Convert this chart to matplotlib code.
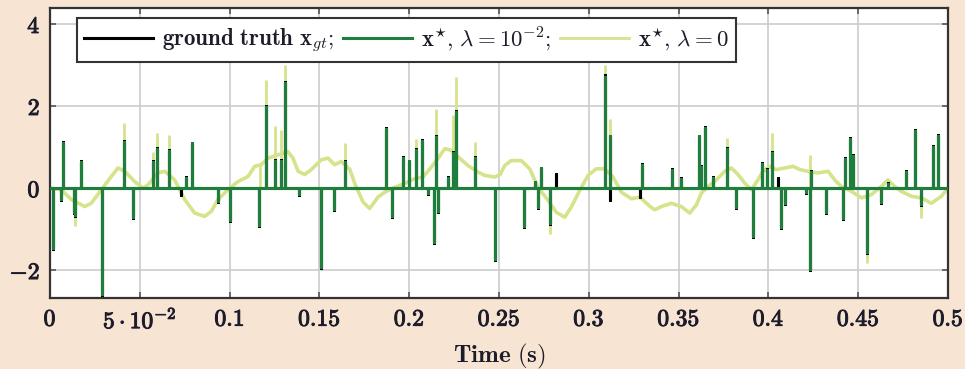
import numpy as np
import matplotlib
matplotlib.use("Agg")
import matplotlib.pyplot as plt
import matplotlib.patheffects as pe

plt.rcParams['mathtext.fontset'] = 'cm'
plt.rcParams['font.family'] = 'serif'
plt.rcParams['font.serif'] = ['DejaVu Serif']

# spike times (s) and amplitudes of the ground truth
gt_t = [0.0017, 0.0063, 0.0072, 0.0132, 0.0141, 0.0174, 0.0291, 0.0410, 0.0462, 0.0573,
        0.0597, 0.0660, 0.0728, 0.0759, 0.0790, 0.0935, 0.1004, 0.1162, 0.1204, 0.1251,
        0.1284, 0.1310, 0.1385, 0.1507, 0.1580, 0.1640, 0.1873, 0.1904, 0.1965, 0.1999,
        0.2040, 0.2071, 0.2105, 0.2138, 0.2152, 0.2160, 0.2216, 0.2244, 0.2262, 0.2365,
        0.2479, 0.2639, 0.2700, 0.2717, 0.2732, 0.2782, 0.2819, 0.3092, 0.3116, 0.3120,
        0.3284, 0.3296, 0.3463, 0.3511, 0.3612, 0.3626, 0.3645, 0.3690, 0.3769, 0.3821,
        0.3914, 0.3964, 0.3994, 0.4020, 0.4055, 0.4072, 0.4094, 0.4211, 0.4230, 0.4236,
        0.4322, 0.4415, 0.4425, 0.4452, 0.4470, 0.4550, 0.4629, 0.4666, 0.4768, 0.4818,
        0.4851, 0.4916, 0.4944]
gt_v = [-1.49, -0.28, 1.12, -0.60, -0.68, 0.65, -2.60, 1.14, -0.73, 0.65,
        0.98, 0.93, -0.16, 0.27, 1.11, -0.33, -0.81, -0.93, 1.99, 0.69,
        0.69, 2.58, -0.16, -1.95, -0.53, 0.65, 1.46, -0.71, 0.76, 0.67,
        0.96, 1.16, -0.14, -1.34, 1.26, -0.59, 0.27, 0.88, 1.87, 0.76,
        -1.76, -0.95, 0.16, -0.48, 0.50, -0.87, 0.35, 2.75, 1.28, -0.30,
        -0.22, 0.59, 0.46, 0.24, 1.28, 0.53, 1.50, 0.26, 0.98, -0.49,
        -1.20, 0.61, 0.46, 0.88, 0.24, -0.98, -0.38, -0.12, -1.99, 0.41,
        -0.61, -0.76, 0.73, 1.22, 0.81, -1.59, -0.37, 0.12, 0.41, 1.42,
        -0.41, 1.02, 1.30]
# estimate with lambda = 1e-2 (same support, a few spikes missed)
star_v = [-1.47, -0.26, 1.10, -0.58, -0.66, 0.63, -2.58, 1.12, -0.70, 0.63,
          0.96, 0.91, 0.0, 0.25, 1.09, -0.31, -0.79, -0.91, 1.97, 0.67,
          0.67, 2.55, -0.14, -1.93, -0.51, 0.63, 1.43, -0.69, 0.74, 0.65,
          0.94, 1.14, -0.12, -1.32, 1.24, -0.57, 0.25, 0.86, 1.85, 0.74,
          -1.74, -0.93, 0.14, -0.46, 0.48, -0.85, 0.0, 2.72, 1.26, 0.0,
          0.0, 0.57, 0.44, 0.22, 1.26, 0.51, 1.47, 0.24, 0.96, -0.47,
          -1.18, 0.59, 0.44, 0.86, 0.0, -0.96, -0.36, -0.10, -1.97, 0.39,
          -0.59, -0.74, 0.71, 1.20, 0.79, -1.57, -0.35, 0.10, 0.39, 1.40,
          -0.39, 1.00, 1.28]

# estimate with lambda = 0: slow wandering curve plus spikes
lam0_t = [0.0, 0.0063, 0.0119, 0.0193, 0.023, 0.0286, 0.0341, 0.0379, 0.0416, 0.0471,
          0.0518, 0.0546, 0.0601, 0.0639, 0.0694, 0.075, 0.0806, 0.0861, 0.0898, 0.0935,
          0.0991, 0.1047, 0.1102, 0.114, 0.1176, 0.1214, 0.127, 0.1325, 0.1353, 0.1381,
          0.1418, 0.1455, 0.151, 0.1548, 0.1585, 0.1622, 0.167, 0.1697, 0.1743, 0.178,
          0.1826, 0.1864, 0.1919, 0.1975, 0.2031, 0.2077, 0.2123, 0.216, 0.2198, 0.2234,
          0.2272, 0.2327, 0.2383, 0.242, 0.2476, 0.2506, 0.2532, 0.2568, 0.2624, 0.2671,
          0.2717, 0.2773, 0.2819, 0.2866, 0.2903, 0.2949, 0.2996, 0.3042, 0.3088, 0.3135,
          0.3181, 0.3237, 0.3284, 0.3341, 0.3367, 0.3404, 0.3459, 0.3515, 0.3562, 0.3599,
          0.3627, 0.3664, 0.3701, 0.3757, 0.3794, 0.3831, 0.3868, 0.3905, 0.3942, 0.397,
          0.4007, 0.4044, 0.4091, 0.4137, 0.4176, 0.422, 0.4276, 0.4332, 0.4369, 0.4406,
          0.4462, 0.4518, 0.4573, 0.4629, 0.4666, 0.4703, 0.474, 0.4796, 0.4851, 0.4907,
          0.4963, 0.5]
lam0_v = [0.0, -0.04, -0.28, -0.45, -0.37, -0.04, 0.28, 0.49, 0.41, 0.16,
          0.0, 0.08, 0.37, 0.41, 0.20, -0.28, -0.61, -0.69, -0.57, -0.28,
          -0.04, 0.16, 0.28, 0.53, 0.57, 0.73, 0.81, 0.89, 0.73, 0.41,
          0.33, 0.45, 0.69, 0.73, 0.57, 0.65, 0.45, 0.11, -0.34, -0.50,
          -0.22, -0.10, 0.02, 0.11, 0.23, 0.27, 0.51, 0.72, 0.96, 0.92,
          0.76, 0.55, 0.39, 0.31, 0.27, 0.33, 0.55, 0.67, 0.67, 0.47,
          0.02, -0.30, -0.59, -0.71, -0.46, -0.06, 0.31, 0.47, 0.47, 0.27,
          -0.10, -0.26, -0.22, -0.45, -0.53, -0.45, -0.37, -0.45, -0.61, -0.41,
          -0.12, 0.04, 0.16, 0.41, 0.49, 0.33, 0.12, -0.04, 0.20, 0.41,
          0.53, 0.45, 0.49, 0.53, 0.45, 0.41, 0.37, 0.41, 0.20, 0.04,
          -0.08, -0.24, -0.16, 0.04, 0.20, 0.04, -0.08, -0.20, -0.24, -0.37,
          -0.20, 0.0]
lam0_spike_t = [0.0137, 0.041, 0.0573, 0.0597, 0.066, 0.1168, 0.1204, 0.1251, 0.1284, 0.131,
                0.164, 0.204, 0.215, 0.2244, 0.2262, 0.2365, 0.2782, 0.3092, 0.3116, 0.3769,
                0.402, 0.423, 0.455, 0.4851]
lam0_spike_v = [-0.93, 1.58, 0.89, 1.34, 1.30, 0.61, 2.64, 1.51, 1.42, 3.00,
                1.10, 1.20, 1.93, 1.77, 2.70, 1.12, -1.11, 2.99, 1.69, 1.22,
                1.34, 0.81, -1.83, -0.73]

xticks = [0, 0.05, 0.1, 0.15, 0.2, 0.25, 0.3, 0.35, 0.4, 0.45, 0.5]
xtick_labels = [r'$\mathbf{0}$', r'$\mathbf{5\cdot10^{-2}}$', r'$\mathbf{0.1}$', r'$\mathbf{0.15}$',
                r'$\mathbf{0.2}$', r'$\mathbf{0.25}$', r'$\mathbf{0.3}$', r'$\mathbf{0.35}$',
                r'$\mathbf{0.4}$', r'$\mathbf{0.45}$', r'$\mathbf{0.5}$']
yticks = [-2, 0, 2, 4]
ytick_labels = [r'$\mathbf{-2}$', r'$\mathbf{0}$', r'$\mathbf{2}$', r'$\mathbf{4}$']


def stem_path(ts, vs, t_end=0.5):
    # sparse signal drawn as one line: zero, jump to value, back to zero
    ts = np.asarray(ts)
    vs = np.asarray(vs)
    order = np.argsort(ts)
    x = np.repeat(ts[order], 3)
    y = np.zeros_like(x)
    y[1::3] = vs[order]
    x = np.concatenate([[0.0], x, [t_end]])
    y = np.concatenate([[0.0], y, [0.0]])
    return x, y


bg = '#f8e4d3'
c_gt = 'black'
c_star = '#1e7e3c'
c_lam0 = '#d5e38b'
txt = '#1c1c2a'

fig = plt.figure(figsize=(9.65, 3.69), dpi=100, facecolor=bg)
ax = fig.add_axes([0.0518, 0.1924, 0.9306, 0.7859])
ax.set_facecolor('white')

ax.plot(lam0_t, lam0_v, color=c_lam0, lw=2.6, zorder=2)
ax.vlines(lam0_spike_t, 0, lam0_spike_v, color=c_lam0, lw=2.0, zorder=2)

x, y = stem_path(gt_t, gt_v)
ax.plot(x, y, color=c_gt, lw=2.2, zorder=3, label=r'$\mathbf{ground\ truth\ x}_{gt};$')
x, y = stem_path(gt_t, star_v)
ax.plot(x, y, color=c_star, lw=2.2, zorder=4,
        label=r'$\mathbf{x}^{\star}\mathbf{,}\ \lambda = \mathbf{10^{-2}};$')
ax.plot([], [], color=c_lam0, lw=2.0, label=r'$\mathbf{x}^{\star}\mathbf{,}\ \lambda = \mathbf{0}$')

ax.set_xlim(0, 0.5)
ax.set_ylim(-2.68, 4.39)
ax.set_xticks(xticks, xtick_labels)
ax.set_yticks(yticks, ytick_labels)
ax.tick_params(direction='in', length=4, width=1.2, color='#555555', top=True, right=True,
               labelsize=17, pad=7, labelcolor=txt)
ax.grid(True, color='#cccccc', lw=1.2)
ax.set_axisbelow(True)
for s in ax.spines.values():
    s.set_linewidth(1.6)
    s.set_color('#333333')

# heavier tick labels, like the bold serif of the original
for lab in ax.get_xticklabels() + ax.get_yticklabels():
    lab.set_path_effects([pe.withStroke(linewidth=0.7, foreground=txt)])

ax.set_xlabel(r'$\mathbf{Time\ (s)}$', fontsize=18, labelpad=6, color=txt)

leg = ax.legend(loc='upper left', bbox_to_anchor=(0.030, 0.966), borderaxespad=0, ncol=3,
                fontsize=16.5, frameon=True, fancybox=False, framealpha=1, edgecolor='#333333',
                handlelength=3.0, handletextpad=0.4, columnspacing=0.4, borderpad=0.3)
leg.get_frame().set_linewidth(1.5)
for t in leg.get_texts():
    t.set_color(txt)

fig.savefig('out.png', dpi=100, facecolor=bg)
